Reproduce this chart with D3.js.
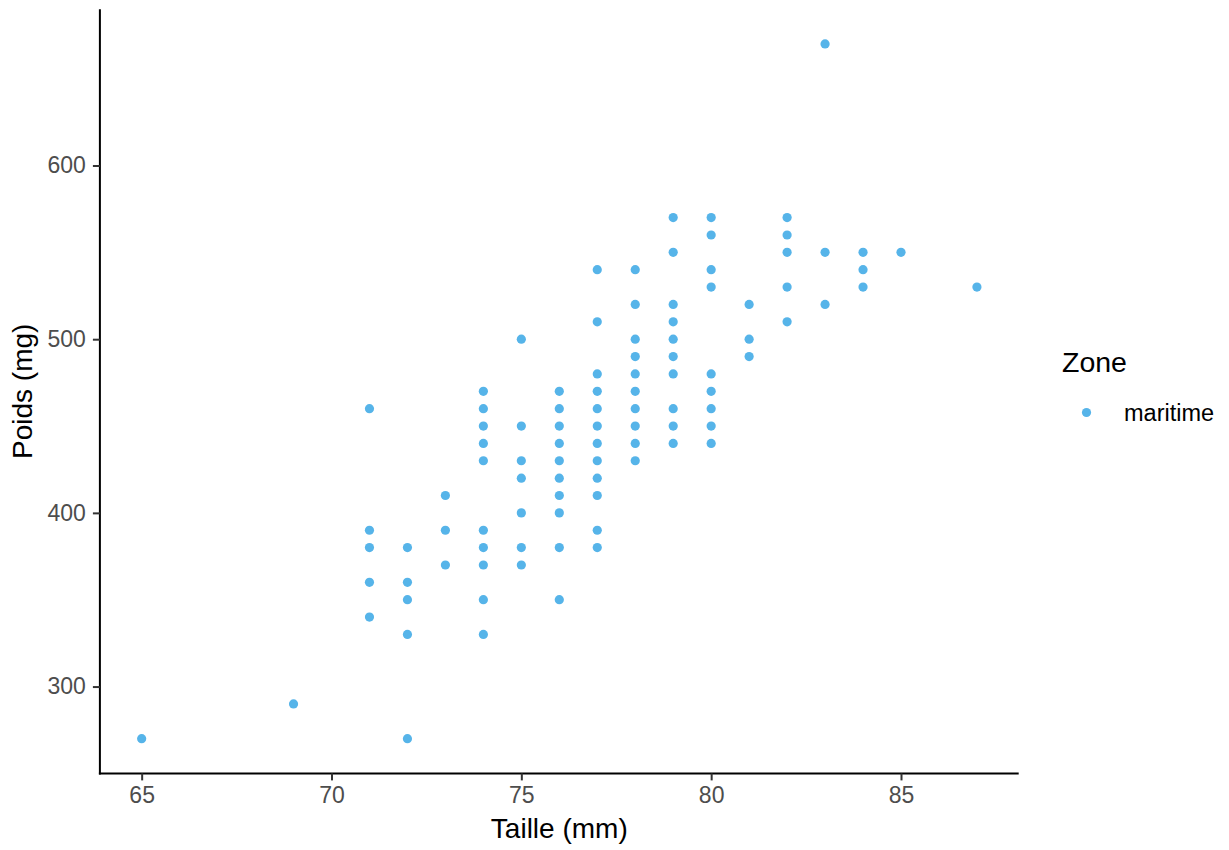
<!DOCTYPE html>
<html>
<head>
<meta charset="utf-8">
<script src="https://cdn.jsdelivr.net/npm/d3@7"></script>
<style>
  html, body { margin: 0; padding: 0; background: #fff; }
  svg { display: block; font-family: "Liberation Sans", Arial, Helvetica, sans-serif; }
</style>
</head>
<body>
<svg id="chart" width="1229" height="850"></svg>
<script>
// Taille (mm)
const taille = [
  65, 69,
  71, 71, 71, 71, 71,
  72, 72, 72, 72, 72,
  73, 73, 73,
  74, 74, 74, 74, 74, 74, 74, 74, 74, 74,
  75, 75, 75, 75, 75, 75, 75,
  76, 76, 76, 76, 76, 76, 76, 76, 76, 76,
  77, 77, 77, 77, 77, 77, 77, 77, 77, 77, 77, 77,
  78, 78, 78, 78, 78, 78, 78, 78, 78, 78,
  79, 79, 79, 79, 79, 79, 79, 79, 79, 79,
  80, 80, 80, 80, 80, 80, 80, 80, 80,
  81, 81, 81,
  82, 82, 82, 82, 82,
  83, 83, 83,
  84, 84, 84,
  85, 87
];
// Poids (mg)
const poids = [
  270, 290,
  460, 390, 380, 360, 340,
  380, 360, 350, 330, 270,
  410, 390, 370,
  470, 460, 450, 440, 430, 390, 380, 370, 350, 330,
  500, 450, 430, 420, 400, 380, 370,
  470, 460, 450, 440, 430, 420, 410, 400, 380, 350,
  540, 510, 480, 470, 460, 450, 440, 430, 420, 410, 390, 380,
  540, 520, 500, 490, 480, 470, 460, 450, 440, 430,
  570, 550, 520, 510, 500, 490, 480, 460, 450, 440,
  570, 560, 540, 530, 480, 470, 460, 450, 440,
  520, 500, 490,
  570, 560, 550, 530, 510,
  670, 550, 520,
  550, 540, 530,
  550, 530
];
const xTicks = [65, 70, 75, 80, 85];
const yTicks = [300, 400, 500, 600];
const zones = ["maritime"];

const pointColor = "#56B4E9";
const svg = d3.select("#chart");

const x = d3.scaleLinear().domain([63.9, 88.1]).range([99.9, 1018.7]);
const y = d3.scaleLinear().domain([250, 690]).range([773.4, 9.2]);

// points
svg.append("g")
  .selectAll("circle")
  .data(taille.map((t, i) => ({ t, p: poids[i] })))
  .join("circle")
  .attr("cx", d => x(d.t))
  .attr("cy", d => y(d.p))
  .attr("r", 4.6)
  .attr("fill", pointColor);

// axes
const xAxis = svg.append("g")
  .attr("transform", `translate(0,${y.range()[0]})`)
  .call(d3.axisBottom(x).tickValues(xTicks).tickSize(7).tickPadding(6).tickSizeOuter(0));
const yAxis = svg.append("g")
  .attr("transform", `translate(${x.range()[0]},0)`)
  .call(d3.axisLeft(y).tickValues(yTicks).tickSize(7).tickPadding(7).tickSizeOuter(0));

[xAxis, yAxis].forEach(g => {
  g.select(".domain").attr("stroke", "#000").attr("stroke-width", 2);
  g.selectAll(".tick line").attr("stroke", "#333").attr("stroke-width", 2);
  g.selectAll(".tick text")
    .attr("fill", "#4d4d4d")
    .style("font-size", "23px")
    .style("font-family", "'Liberation Sans', Arial, sans-serif");
});
// extend domain lines to meet at corner
xAxis.select(".domain").attr("d", `M${x.range()[0] - 1},0H${x.range()[1]}`);
yAxis.select(".domain").attr("d", `M0,${y.range()[0] + 1}V${y.range()[1]}`);

// axis titles
svg.append("text")
  .attr("x", (x.range()[0] + x.range()[1]) / 2)
  .attr("y", 838)
  .attr("text-anchor", "middle")
  .attr("fill", "#000")
  .style("font-size", "28px")
  .text("Taille (mm)");

svg.append("text")
  .attr("transform", `translate(32,${(y.range()[0] + y.range()[1]) / 2}) rotate(-90)`)
  .attr("text-anchor", "middle")
  .attr("fill", "#000")
  .style("font-size", "28px")
  .text("Poids (mg)");

// legend
const legend = svg.append("g");
legend.append("text")
  .attr("x", 1062)
  .attr("y", 372)
  .attr("fill", "#000")
  .style("font-size", "28.5px")
  .text("Zone");
const items = legend.selectAll("g.item").data(zones).join("g").attr("class", "item");
items.append("circle")
  .attr("cx", 1086.5)
  .attr("cy", (d, i) => 412.5 + i * 30)
  .attr("r", 4.6)
  .attr("fill", pointColor);
items.append("text")
  .attr("x", 1124)
  .attr("y", (d, i) => 421 + i * 30)
  .attr("fill", "#000")
  .style("font-size", "23.5px")
  .text(d => d);
</script>
</body>
</html>
